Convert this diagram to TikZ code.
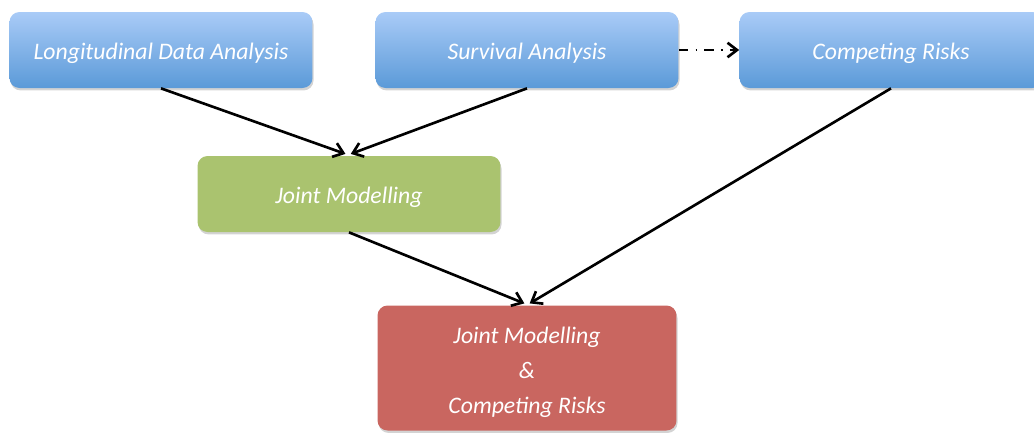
\documentclass[tikz,border=0pt]{standalone}
\usepackage{fontspec}
\setmainfont{Carlito}
\usetikzlibrary{arrows.meta, positioning, shadows}

\definecolor{paneltop}{HTML}{A9CBF7}
\definecolor{panelbot}{HTML}{5B9AD8}
\definecolor{jointgreen}{HTML}{AAC36F}
\definecolor{jointred}{HTML}{C96660}

\begin{document}
\begin{tikzpicture}[x=0.02cm, y=-0.02cm, >={Straight Barb[length=1.9mm, width=2.9mm]},
        font=\fontsize{13.5}{20.1}\selectfont\itshape,
        panel/.style={rounded corners=0.2cm, minimum width=6.06cm, minimum height=1.52cm,
            text=white, align=center, inner sep=0pt, text depth=0pt, text height=11.3pt,
            drop shadow={shadow xshift=0.6pt, shadow yshift=-1.4pt, opacity=0.35}},
        bluepanel/.style={panel, top color=paneltop, bottom color=panelbot},
        flow/.style={->, line width=1.5pt},
        dashflow/.style={->, line width=1.5pt, dash pattern=on 5.5pt off 4pt on 1pt off 4pt}]
        \useasboundingbox (0,0) rectangle (1034,434);

        % Top row
        \node[bluepanel] (lda) at (161,50) {Longitudinal Data Analysis};
        \node[bluepanel] (surv) at (527,50) {Survival Analysis};
        \node[bluepanel] (comp) at (891,50) {Competing Risks};

        % Joint models
        \node[panel, fill=jointgreen] (joint) at (349,194) {Joint Modelling};
        \node[panel, fill=jointred, minimum width=5.98cm, minimum height=2.5cm, text height=52.2pt]
            (jointcomp) at (527,368) {Joint Modelling\\\&\\Competing Risks};

        % Connectors
        \draw[flow] (lda.south) -- ([xshift=-2pt, yshift=1pt]joint.north);
        \draw[flow] (surv.south) -- ([xshift=1pt, yshift=1pt]joint.north);
        \draw[dashflow] (surv.east) -- (comp.west);
        \draw[flow] (joint.south) -- ([xshift=-1.5pt, yshift=1pt]jointcomp.north);
        \draw[flow] (comp.south) -- ([xshift=1.5pt, yshift=1pt]jointcomp.north);
    \end{tikzpicture}
\end{document}
